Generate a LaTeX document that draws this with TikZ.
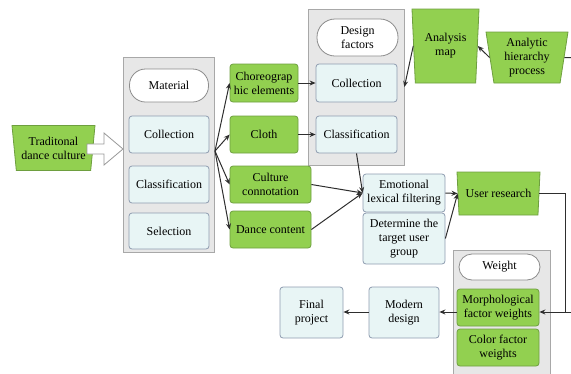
\documentclass[tikz,border=0pt]{standalone}
\usepackage{fontspec}
\setmainfont{Liberation Serif}
\usepackage{xcolor}
\usepackage{tikz}
\usetikzlibrary{arrows.meta,shapes,positioning}
\definecolor{leaf}{HTML}{92D050}
\definecolor{leafline}{HTML}{6E9F3F}
\definecolor{mist}{HTML}{E8F5F5}
\definecolor{mistline}{HTML}{8E9CB0}
\definecolor{panel}{HTML}{E7E7E7}
\definecolor{panelline}{HTML}{A8A8A8}
\definecolor{ink}{HTML}{2E2E2E}
\tikzset{
every node/.style={font=\fontsize{12}{14}\selectfont,text=black,align=center,inner sep=1pt},
grp/.style={draw=panelline,fill=panel,line width=0.8pt},
pill/.style={draw=black!45,fill=white,rounded corners=#1,line width=0.8pt},
soft/.style={draw=mistline,fill=mist,rounded corners=3pt,line width=0.8pt},
leafbox/.style={draw=leafline,fill=leaf,rounded corners=3pt,line width=0.8pt},
trap/.style={trapezium,trapezium left angle=#1,trapezium right angle=#1,
  trapezium stretches body=true,draw=leafline,fill=leaf,line width=0.8pt},
link/.style={draw=ink,line width=1pt,->},
}

\begin{document}
\begin{tikzpicture}[x=1pt,y=-1pt,>={Stealth[length=6pt,width=5pt]}]
\useasboundingbox(0,0)rectangle(571,373);
% groups
\node[grp,minimum width=91,minimum height=195](matgrp)at(168.5,154.5){};
\node[grp,minimum width=96,minimum height=156](desgrp)at(356,87){};
\node[grp,minimum width=97,minimum height=130](wgtgrp)at(501.5,315){};
% material
\node[pill=16pt,minimum width=79,minimum height=33](mat)at(169,85.5){Material};
\node[soft,minimum width=80,minimum height=37](mcol)at(169,134.5){Collection};
\node[soft,minimum width=80,minimum height=37](mcla)at(169,184.5){Classification};
\node[soft,minimum width=80,minimum height=36](msel)at(169,231){Selection};
% source
\node[trap=100,minimum width=83,minimum height=45](tdc)at(53.5,148){Traditonal\\dance culture};
\draw[draw=black!40,fill=white,line width=0.8pt](87,144)--(104,144)--(104,133)--(123,149)
--(104,165)--(104,154)--(87,154)--cycle;
% elements
\node[leafbox,minimum width=68,minimum height=38](chor)at(264,83){Choreograp\\hic elements};
\node[leafbox,minimum width=68,minimum height=37](cloth)at(264,134.5){Cloth};
\node[leafbox,minimum width=81,minimum height=37](cult)at(270.5,184.5){Culture\\connotation};
\node[leafbox,minimum width=81,minimum height=37](dance)at(270.5,229.5){Dance content};
% design factors
\node[pill=18pt,minimum width=81,minimum height=37](des)at(357.5,37.5){Design\\factors};
\node[soft,minimum width=81,minimum height=38](dcol)at(356.5,83){Collection};
\node[soft,minimum width=81,minimum height=37](dcla)at(356.5,134.5){Classification};
% analysis
\node[trap=97,minimum width=67,minimum height=74](amap)at(445.5,46){Analysis\\map};
\node[trap=101,minimum width=82,minimum height=51](ahp)at(527,57.5){Analytic\\hierarchy\\process};
% filtering
\node[soft,minimum width=82,minimum height=38](emo)at(404,193){Emotional\\lexical filtering};
\node[soft,minimum width=82,minimum height=51](det)at(404,238.5){Determine the\\target user\\group};
\node[trap=101,minimum width=83,minimum height=43](ur)at(498.5,193.5){User research};
% weight
\node[pill=13pt,minimum width=81,minimum height=26](wgt)at(499.5,267){Weight};
\node[leafbox,minimum width=82,minimum height=37](morph)at(498,307.5){Morphological\\factor weights};
\node[leafbox,minimum width=82,minimum height=37](colw)at(498,347.5){Color factor\\weights};
\node[soft,minimum width=70,minimum height=51](modern)at(404,312.5){Modern\\design};
\node[soft,minimum width=63,minimum height=51](final)at(311.5,312.5){Final\\project};
\coordinate(fan)at(215,151);
\coordinate(rimA)at(571,57.5);
\coordinate(rimB)at(571,312);
\coordinate(turn)at(565,312);
% connectors
\draw[link](fan)--(chor.west);
\draw[link](fan)--(cloth.west);
\draw[link](fan)--(cult.west);
\draw[link](fan)--(dance.west);
\draw[link](chor)--(dcol);
\draw[link](cloth)--(dcla);
\draw[link](amap.west)--(desgrp.east);
\draw[link](ahp.west)--(amap.east);
\draw[draw=ink,line width=1pt](ahp.east)--(rimA);
\draw[link](dcla.south)--(emo.west);
\draw[link](cult.east)--(emo.west);
\draw[link](dance.east)--(emo.west);
\draw[link](emo.east)--(ur.west);
\draw[link](det.east)--(ur.west);
\draw[draw=ink,line width=1pt](ur.east)-|(turn)--(rimB);
\draw[link](turn)--(morph.east|-turn);
\draw[link](morph.west|-turn)--(modern.east|-turn);
\draw[link](modern.west|-turn)--(final.east|-turn);
\end{tikzpicture}
\end{document}
